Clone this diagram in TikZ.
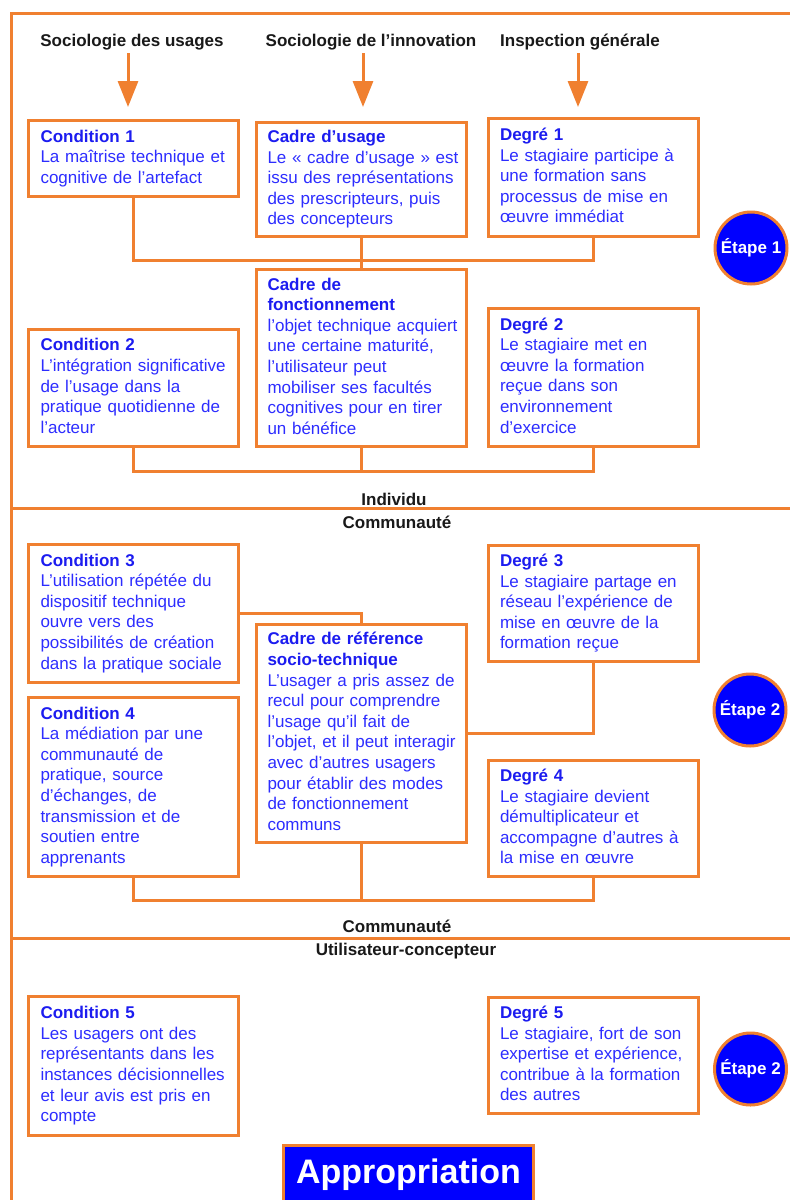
\documentclass[tikz,border=0pt]{standalone}
\usepackage{fontspec}
\setmainfont{Liberation Sans}
\usetikzlibrary{arrows.meta}
\definecolor{ora}{RGB}{240,128,48}
\definecolor{tblue}{RGB}{45,45,255}
\definecolor{hblue}{RGB}{28,28,240}
\definecolor{cblue}{RGB}{0,0,255}
\newcommand{\bodyfs}{\fontsize{17}{20.6}\selectfont}
\newcommand{\ttl}[1]{\textbf{\color{hblue}#1}}
\newcommand{\tb}[1]{\rlap{\begin{tabular}{@{}l@{}}#1\end{tabular}}}
\begin{document}
\begin{tikzpicture}[x=1pt,y=-1pt,
  box/.style={draw=ora, line width=3pt, anchor=north west, outer sep=0pt, inner xsep=12pt, inner ysep=0pt,
    minimum width=210pt, text width=186pt, align=left, font=\bodyfs, text=tblue},
  cbox/.style={box, inner xsep=11pt, text width=188pt},
  hdr/.style={anchor=base, inner sep=0pt, font=\bfseries\bodyfs, text=black!90},
  frame/.style={draw=ora, line width=3pt},
  link/.style={draw=ora, line width=3pt},
  arr/.style={draw=ora, line width=3pt, -{Triangle[width=20pt,length=26pt]}},
  etape/.style={circle, draw=ora, fill=cblue, line width=3pt, minimum size=72pt, inner sep=0pt,
    text=white, font=\bfseries\bodyfs}]
\useasboundingbox (0,0) rectangle (790,1200);
\fill[white] (0,0) rectangle (790,1200);

% frame
\draw[frame] (790,13) -- (11,13) -- (11,1205);
\draw[frame] (11,508.5) -- (790,508.5);
\draw[frame] (11,938) -- (790,938);

% headers
\node[hdr] (h1) at (132,46.5) {Sociologie des usages};
\node[hdr] (h2) at (371,46.5) {Sociologie de l’innovation};
\node[hdr] (h3) at (580,46.5) {Inspection générale};
\coordinate (a1) at (128,53); \coordinate (b1) at (128,107);
\coordinate (a2) at (363,53); \coordinate (b2) at (363,107);
\coordinate (a3) at (578,53); \coordinate (b3) at (578,107);
\draw[arr] (a1) -- (b1);
\draw[arr] (a2) -- (b2);
\draw[arr] (a3) -- (b3);

% row 1
\node[box, minimum height=76pt] (c1) at (28.5,120.5) {\tb{\ttl{Condition 1}\\La maîtrise technique et\\cognitive de l’artefact}};
\node[cbox, minimum height=114pt] (cu) at (256.5,122.5) {\tb{\ttl{Cadre d’usage}\\Le « cadre d’usage » est\\issu des représentations\\des prescripteurs, puis\\des concepteurs}};
\node[box, minimum height=118pt] (d1) at (488,118.5) {\tb{\ttl{Degré 1}\\Le stagiaire participe à\\une formation sans\\processus de mise en\\œuvre immédiat}};

% row 2
\node[cbox, minimum height=177pt] (cf) at (256.5,269.5) {\tb{\ttl{Cadre de}\\\ttl{fonctionnement}\\l’objet technique acquiert\\une certaine maturité,\\l’utilisateur peut\\mobiliser ses facultés\\cognitives pour en tirer\\un bénéfice}};
\node[box, minimum height=117pt] (c2) at (28.5,329.5) {\tb{\ttl{Condition 2}\\L’intégration significative\\de l’usage dans la\\pratique quotidienne de\\l’acteur}};
\node[box, minimum height=138pt] (d2) at (488,308.5) {\tb{\ttl{Degré 2}\\Le stagiaire met en\\œuvre la formation\\reçue dans son\\environnement\\d’exercice}};

\coordinate (j1) at (361.5,260);
\coordinate (j2) at (361.5,471);
\draw[link] (c1.south) |- (j1) -| (d1.south);
\draw[link] (cu.south) -- (cf.north);
\draw[link] (c2.south) |- (j2) -| (d2.south);
\draw[link] (cf.south) -- (cf.south |- j2);

\node[etape] (e1) at (751,248) {Étape 1};

\node[hdr] (ind) at (394,505) {Individu};
\node[hdr] (com1) at (397,528) {Communauté};

% section 2
\node[box, minimum height=138pt] (c3) at (28.5,544.5) {\tb{\ttl{Condition 3}\\L’utilisation répétée du\\dispositif technique\\ouvre vers des\\possibilités de création\\dans la pratique sociale}};
\node[box, minimum height=179pt] (c4) at (28.5,697.5) {\tb{\ttl{Condition 4}\\La médiation par une\\communauté de\\pratique, source\\d’échanges, de\\transmission et de\\soutien entre\\apprenants}};
\node[cbox, minimum height=218pt] (cr) at (256.5,624.5) {\tb{\ttl{Cadre de référence}\\\ttl{socio-technique}\\L’usager a pris assez de\\recul pour comprendre\\l’usage qu’il fait de\\l’objet, et il peut interagir\\avec d’autres usagers\\pour établir des modes\\de fonctionnement\\communs}};
\node[box, minimum height=116pt] (d3) at (488,545.5) {\tb{\ttl{Degré 3}\\Le stagiaire partage en\\réseau l’expérience de\\mise en œuvre de la\\formation reçue}};
\node[box, minimum height=116pt] (d4) at (488,760.5) {\tb{\ttl{Degré 4}\\Le stagiaire devient\\démultiplicateur et\\accompagne d’autres à\\la mise en œuvre}};

\coordinate (j3) at (361.5,900);
\draw[link] (c3.east) -| (cr.north);
\draw[link] (d3.south) |- (cr.east);
\draw[link] (c4.south) |- (j3) -| (d4.south);
\draw[link] (cr.south) -- (cr.south |- j3);

\node[etape] (e2) at (750,710) {Étape 2};

\node[hdr] (com2) at (397,932) {Communauté};
\node[hdr] (uc) at (406,955) {Utilisateur-concepteur};

% section 3
\node[box, minimum height=139pt] (c5) at (28.5,996.5) {\tb{\ttl{Condition 5}\\Les usagers ont des\\représentants dans les\\instances décisionnelles\\et leur avis est pris en\\compte}};
\node[box, minimum height=116pt] (d5) at (488,997.5) {\tb{\ttl{Degré 5}\\Le stagiaire, fort de son\\expertise et expérience,\\contribue à la formation\\des autres}};
\node[etape] (e3) at (750.5,1069) {Étape 2};

\node[draw=ora, fill=cblue, line width=3pt, anchor=north, outer sep=0pt, minimum width=250pt, inner xsep=0pt,
  inner ysep=12.5pt, text height=26pt, text depth=10pt, text=white, font=\bfseries\fontsize{34}{40}\selectfont]
  (ap) at (408.5,1145) {Appropriation};
\end{tikzpicture}
\end{document}
